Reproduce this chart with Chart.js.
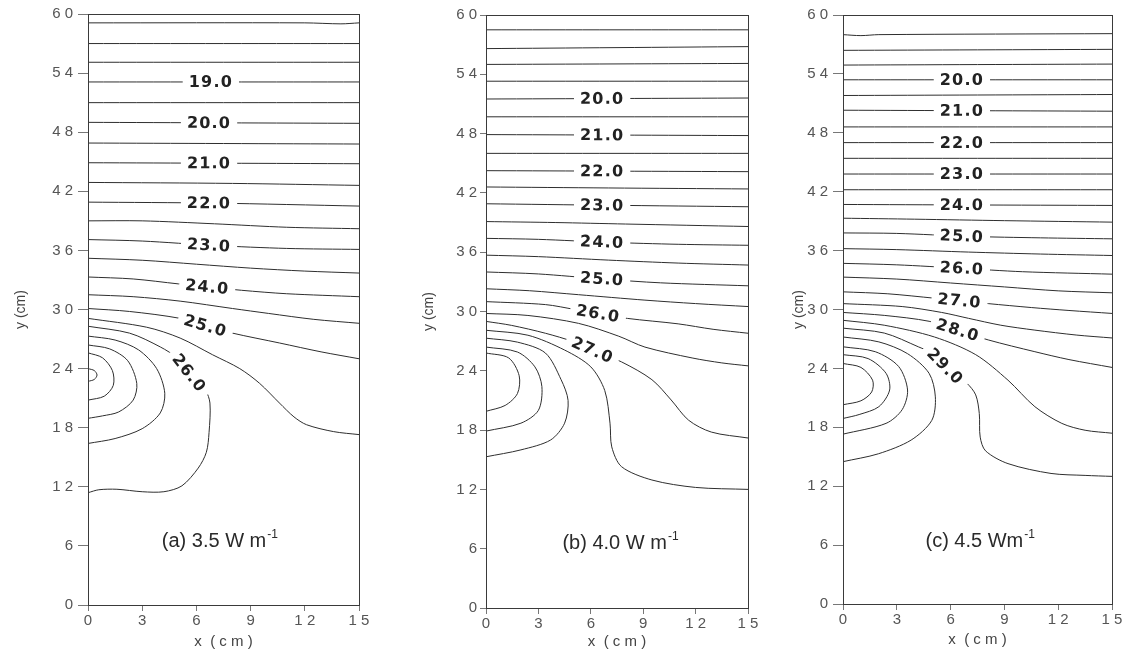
<!DOCTYPE html>
<html><head><meta charset="utf-8">
<script src="https://cdn.jsdelivr.net/npm/chart.js@4.4.1/dist/chart.umd.min.js"></script>
<style>
html,body{margin:0;padding:0;background:#fff;}
#wrap{position:relative;width:1134px;height:660px;overflow:hidden;background:#fff;}
canvas{position:absolute;top:0;}
</style></head><body>
<div id="wrap">
<canvas id="ca" width="380" height="660" style="left:0px"></canvas>
<canvas id="cb" width="380" height="660" style="left:380px"></canvas>
<canvas id="cc" width="374" height="660" style="left:760px"></canvas>
</div>
<script>
// ---- axis ticks (shared) ----
const xTickValues = [0, 3, 6, 9, 12, 15];
const xTickLabels = ['0', '3', '6', '9', '1 2', '1 5'];
const yTickValues = [0, 6, 12, 18, 24, 30, 36, 42, 48, 54, 60];
const yTickLabels = ['0', '6', '1 2', '1 8', '2 4', '3 0', '3 6', '4 2', '4 8', '5 4', '6 0'];

// ---- panel (a) 3.5 W m-1 : contour levels (deg C) and their lines [x cm, y cm] ----
const levelsA = [17.5, 18.0, 18.5, 19.0, 19.5, 20.0, 20.5, 21.0, 21.5, 22.0, 22.5, 23.0, 23.5, 24.0, 24.5, 25.0, 25.5, 26.0, 26.5, 27.0, 27.5, 28.0];
const linesA = [
  [[0,59.1],[12,59.1],[14,59.0],[15,59.1]],
  [[0,57.0],[15,57.0]],
  [[0,55.1],[15,55.1]],
  [[0,53.1],[15,53.1]],
  [[0,51.0],[15,51.0]],
  [[0,49.0],[15,48.9]],
  [[0,46.9],[15,46.8]],
  [[0,44.9],[15,44.8]],
  [[0,42.9],[8,42.8],[15,42.6]],
  [[0,40.9],[7,40.8],[15,40.5]],
  [[0,39.0],[3,39.0],[7,38.7],[11,38.35],[15,38.2]],
  [[0,37.1],[3,36.95],[7,36.5],[11,36.2],[15,36.1]],
  [[0,35.2],[3,35.0],[6,34.6],[9,34.2],[12,33.9],[15,33.7]],
  [[0,33.3],[2.5,33.1],[5,32.6],[6.6,32.3],[8.5,31.95],[11,31.6],[15,31.3]],
  [[0,31.5],[2.5,31.3],[5.1,30.85],[8,30.1],[10,29.6],[12.5,29.0],[15,28.6]],
  [[0,30.1],[2.3,29.8],[5.1,29.1],[6.5,28.35],[8,27.6],[10.6,26.6],[12.9,25.7],[15,25.0]],
  [[0,29.1],[3.25,28.2],[5.1,27.1],[6.9,25.4],[8.4,24.0],[9.5,22.5],[10.6,20.5],[11.4,19.1],[12.1,18.3],[13.6,17.6],[15,17.3]],
  [[0,28.3],[2.3,27.6],[4.0,26.2],[4.95,25.05],[5.7,23.3],[6.5,21.8],[6.75,20.5],[6.7,17.5],[6.55,15.5],[6.1,13.9],[5.2,12.1],[4.2,11.5],[3.0,11.5],[1.6,11.75],[0.6,11.7],[0,11.4]],
  [[0,27.3],[1.5,26.9],[2.8,25.9],[3.8,24.0],[4.25,21.5],[4.0,19.5],[3.0,17.9],[1.5,16.9],[0,16.4]],
  [[0,26.4],[1.2,26.0],[2.2,24.8],[2.7,22.5],[2.5,20.8],[1.7,19.6],[0.8,19.2],[0,18.95]],
  [[0,25.6],[0.8,25.1],[1.35,23.8],[1.4,22.3],[0.9,21.2],[0,20.8]],
  [[0,24.0],[0.35,23.8],[0.5,23.35],[0.35,22.9],[0,22.7]]
];
const labelLevelsA = [19, 20, 21, 22, 23, 24, 25, 26];
const labelXA = [6.8, 6.7, 6.7, 6.7, 6.7, 6.6, 6.5, 5.6];
const noteA = '(a) 3.5 W m';

// ---- panel (b) 4.0 W m-1 ----
const levelsB = [18.0, 18.5, 19.0, 19.5, 20.0, 20.5, 21.0, 21.5, 22.0, 22.5, 23.0, 23.5, 24.0, 24.5, 25.0, 25.5, 26.0, 26.5, 27.0, 27.5, 28.0, 28.5, 29.0];
const linesB = [
  [[0,58.5],[15,58.5]],
  [[0,56.6],[15,56.8]],
  [[0,55.0],[15,55.1]],
  [[0,53.3],[15,53.3]],
  [[0,51.5],[15,51.6]],
  [[0,49.7],[15,49.7]],
  [[0,47.9],[15,47.8]],
  [[0,46.0],[15,46.0]],
  [[0,44.25],[15,44.15]],
  [[0,42.6],[7,42.5],[15,42.4]],
  [[0,40.9],[7,40.75],[15,40.6]],
  [[0,39.1],[4,39.0],[8,38.85],[15,38.6]],
  [[0,37.4],[3,37.3],[7,37.0],[11,36.8],[15,36.7]],
  [[0,35.7],[3,35.55],[7,35.2],[11,34.9],[15,34.7]],
  [[0,34.0],[3,33.8],[6.6,33.3],[10,32.9],[15,32.6]],
  [[0,32.3],[2.5,32.1],[5.3,31.7],[9.1,31.15],[12,30.8],[15,30.5]],
  [[0,31.0],[3.4,30.7],[5.1,30.2],[6.4,29.8],[8.1,29.3],[11,28.75],[13,28.2],[15,27.8]],
  [[0,29.8],[2.4,29.6],[5.3,28.8],[7.6,27.5],[9.1,26.4],[11.8,25.3],[13.5,24.8],[15,24.5]],
  [[0,29.0],[1.45,28.6],[3.4,27.8],[5.0,26.95],[6.1,26.1],[7.76,24.9],[9.5,23.1],[10.6,21.05],[11.6,19.0],[12.9,17.8],[15,17.2]],
  [[0,28.1],[2.4,27.6],[4.5,26.1],[6.0,24.4],[6.8,22.0],[7.1,18.7],[7.2,16.3],[7.76,14.3],[9.5,12.95],[12.0,12.2],[15,12.0]],
  [[0,27.3],[1.8,26.9],[3.4,25.8],[4.3,23.1],[4.7,21.0],[4.5,18.7],[3.7,17.0],[2.0,16.0],[0,15.3]],
  [[0,26.4],[1.8,25.9],[2.8,24.4],[3.2,22.4],[3.0,20.0],[2.0,18.7],[0,17.9]],
  [[0,25.8],[1.3,25.3],[1.9,23.5],[1.8,21.7],[1.1,20.5],[0,19.9]]
];
const labelLevelsB = [20, 21, 22, 23, 24, 25, 26, 27];
const labelXB = [6.65, 6.65, 6.65, 6.65, 6.65, 6.65, 6.42, 6.1];
const noteB = '(b) 4.0 W m';

// ---- panel (c) 4.5 W m-1 ----
const levelsC = [18.5, 19.0, 19.5, 20.0, 20.5, 21.0, 21.5, 22.0, 22.5, 23.0, 23.5, 24.0, 24.5, 25.0, 25.5, 26.0, 26.5, 27.0, 27.5, 28.0, 28.5, 29.0, 29.5, 30.0, 30.5, 31.0];
const linesC = [
  [[0,58.0],[1,57.9],[2,58.0],[15,58.1]],
  [[0,56.4],[15,56.5]],
  [[0,54.9],[15,55.0]],
  [[0,53.4],[15,53.4]],
  [[0,51.8],[15,51.9]],
  [[0,50.3],[15,50.2]],
  [[0,48.6],[15,48.6]],
  [[0,47.0],[15,47.0]],
  [[0,45.4],[15,45.4]],
  [[0,43.8],[15,43.8]],
  [[0,42.2],[15,42.2]],
  [[0,40.7],[7,40.65],[15,40.6]],
  [[0,39.3],[4,39.2],[9,39.05],[15,38.9]],
  [[0,37.8],[3,37.75],[7,37.45],[11,37.3],[15,37.2]],
  [[0,36.2],[3,36.1],[7,35.85],[11,35.65],[15,35.5]],
  [[0,34.7],[3,34.55],[6.6,34.2],[10,33.85],[15,33.6]],
  [[0,33.3],[3,33.1],[6,32.7],[9,32.3],[12,31.9],[15,31.7]],
  [[0,31.8],[2.5,31.6],[5.1,31.15],[6.5,30.9],[8.1,30.6],[10.5,30.2],[12.6,29.9],[15,29.6]],
  [[0,30.6],[3.3,30.3],[5.5,29.7],[7,29.1],[8.8,28.4],[10.7,27.9],[13,27.4],[15,27.1]],
  [[0,29.7],[2.3,29.4],[4.8,28.8],[6.4,27.9],[8.1,26.9],[10.7,25.7],[12.6,24.9],[15,24.1]],
  [[0,28.9],[2.3,28.4],[5.1,27.2],[7.4,25.4],[9.2,22.8],[10.7,20.1],[12.2,18.4],[13.5,17.7],[15,17.4]],
  [[0,28.1],[2.3,27.6],[4.2,26.2],[5.0,25.5],[5.75,24.1],[6.9,22.5],[7.4,21.3],[7.6,19.4],[7.65,17.0],[7.95,15.6],[9.2,14.3],[11.6,13.3],[13.5,13.1],[15,13.0]],
  [[0,27.2],[2.0,26.7],[3.6,25.5],[4.8,23.5],[5.15,21.1],[4.95,18.7],[3.8,16.7],[1.97,15.3],[0,14.5]],
  [[0,26.2],[1.8,25.7],[3.1,24.2],[3.6,21.8],[3.3,19.8],[2.4,18.4],[0,17.3]],
  [[0,25.4],[1.4,25.0],[2.4,23.5],[2.6,21.8],[2.0,20.1],[0.9,19.3],[0,18.9]],
  [[0,24.5],[1.0,24.1],[1.65,22.8],[1.6,21.6],[1.0,20.7],[0,20.3]]
];
const labelLevelsC = [20, 21, 22, 23, 24, 25, 26, 27, 28, 29];
const labelXC = [6.63, 6.63, 6.63, 6.63, 6.63, 6.63, 6.63, 6.5, 6.4, 5.7];
const noteC = '(c) 4.5 Wm';
const noteSup = '-1';

// ---------------------------------------------------------------
const FONT = '"Liberation Sans", Arial, sans-serif';
const LINE_COLOR = '#2e2e2e';

const framePlugin = {
  id: 'frame',
  afterDatasetsDraw(chart) {
    const {ctx, chartArea: a} = chart;
    ctx.save();
    ctx.strokeStyle = '#3a3a3a';
    ctx.lineWidth = 1;
    ctx.strokeRect(Math.round(a.left) + 0.5, Math.round(a.top) + 0.5, Math.round(a.right - a.left), Math.round(a.bottom - a.top));
    ctx.restore();
  }
};

const contourLabelPlugin = {
  id: 'contourLabels',
  afterDatasetsDraw(chart, args, opts) {
    const {ctx} = chart;
    const xs = chart.scales.x, ys = chart.scales.y;
    ctx.save();
    opts.levels.forEach((lev, k) => {
      const idx = opts.allLevels.findIndex(v => Math.abs(v - lev) < 1e-6);
      if (idx < 0) return;
      const pts = opts.lines[idx];
      const lx = opts.xs[k];
      let ly = null, ang = 0;
      for (let i = 0; i < pts.length - 1; i++) {
        const p = pts[i], q = pts[i + 1];
        const lo = Math.min(p[0], q[0]), hi = Math.max(p[0], q[0]);
        if (lx >= lo && lx <= hi && hi > lo) {
          const t = (lx - p[0]) / (q[0] - p[0]);
          ly = p[1] + t * (q[1] - p[1]);
          let dx = xs.getPixelForValue(q[0]) - xs.getPixelForValue(p[0]);
          let dy = ys.getPixelForValue(q[1]) - ys.getPixelForValue(p[1]);
          if (dx < 0) { dx = -dx; dy = -dy; }
          ang = Math.atan2(dy, dx);
          break;
        }
      }
      if (ly === null) return;
      const px = xs.getPixelForValue(lx), py = ys.getPixelForValue(ly);
      const txt = lev.toFixed(1);
      ctx.save();
      ctx.translate(px, py);
      ctx.rotate(ang);
      ctx.font = 'bold 16px "DejaVu Sans", sans-serif';
      try { ctx.letterSpacing = '1.2px'; } catch (e) {}
      const w = ctx.measureText(txt).width;
      ctx.fillStyle = '#fff';
      ctx.fillRect(-w / 2 - 6, -7, w + 12, 14);
      ctx.fillStyle = '#222';
      ctx.textAlign = 'left';
      ctx.textBaseline = 'middle';
      ctx.fillText(txt, -w / 2, 1);
      ctx.restore();
    });
    ctx.restore();
  }
};

const notePlugin = {
  id: 'note',
  afterDatasetsDraw(chart, args, opts) {
    const {ctx} = chart;
    const px = chart.scales.x.getPixelForValue(opts.x);
    const py = chart.scales.y.getPixelForValue(opts.y);
    ctx.save();
    ctx.fillStyle = '#2a2a2a';
    ctx.textBaseline = 'alphabetic';
    ctx.textAlign = 'left';
    ctx.font = '20px ' + FONT;
    const w1 = ctx.measureText(opts.text).width;
    ctx.font = '12px ' + FONT;
    const w2 = ctx.measureText(noteSup).width;
    const x0 = px - (w1 + w2 + 1) / 2;
    ctx.font = '20px ' + FONT;
    ctx.fillText(opts.text, x0, py + 7);
    ctx.font = '12px ' + FONT;
    ctx.fillText(noteSup, x0 + w1 + 1, py - 2);
    ctx.restore();
  }
};

function makePanel(id, levels, lines, labelLevels, labelX, note, cfg) {
  const datasets = lines.map((pts, i) => ({
    label: levels[i].toFixed(1),
    data: pts.map(p => ({x: p[0], y: p[1]})),
    showLine: true,
    borderColor: LINE_COLOR,
    borderWidth: 1,
    pointRadius: 0,
    pointHoverRadius: 0,
    tension: 0.3,
    fill: false
  }));
  return new Chart(document.getElementById(id), {
    type: 'scatter',
    data: {datasets},
    options: {
      responsive: false,
      animation: false,
      devicePixelRatio: 1,
      events: [],
      layout: {padding: {left: 0, right: cfg.padRight, top: cfg.padTop, bottom: 0}},
      plugins: {
        legend: {display: false},
        tooltip: {enabled: false},
        contourLabels: {levels: labelLevels, xs: labelX, lines: lines, allLevels: levels},
        note: {text: note, x: cfg.noteX, y: cfg.noteY}
      },
      scales: {
        x: {
          type: 'linear', min: 0, max: 15, position: 'bottom',
          afterBuildTicks: s => { s.ticks = xTickValues.map(v => ({value: v})); },
          ticks: {callback: (v, i) => xTickLabels[i], font: {family: FONT, size: 15}, color: '#555', padding: 1, maxRotation: 0, autoSkip: false},
          grid: {drawOnChartArea: false, drawTicks: true, tickLength: 6, color: '#777'},
          border: {display: true, color: '#3a3a3a', width: 1},
          title: {display: true, text: 'x  ( c m )', font: {family: FONT, size: 15}, color: '#444', padding: {top: 0, bottom: cfg.xTitlePad}},
          afterFit(s) { s.height = cfg.xAxisH; }
        },
        y: {
          type: 'linear', min: 0, max: 60, position: 'left',
          afterBuildTicks: s => { s.ticks = yTickValues.map(v => ({value: v})); },
          ticks: {callback: (v, i) => yTickLabels[i], font: {family: FONT, size: 15}, color: '#555', padding: cfg.yPad, autoSkip: false},
          grid: {drawOnChartArea: false, drawTicks: true, tickLength: cfg.yTick, color: '#777'},
          border: {display: true, color: '#3a3a3a', width: 1},
          title: {display: true, text: 'y (cm)', font: {family: FONT, size: 14}, color: '#444', padding: {top: cfg.yTitlePad, bottom: 0}},
          afterFit(s) { s.width = cfg.yAxisW; }
        }
      }
    },
    plugins: [framePlugin, contourLabelPlugin, notePlugin]
  });
}

makePanel('ca', levelsA, linesA, labelLevelsA, labelXA, noteA,
  {yAxisW: 88, padRight: 21, padTop: 14, xAxisH: 55, yTick: 10, yPad: 5, yTitlePad: 13, xTitlePad: 9, noteX: 7.3, noteY: 6.6});
makePanel('cb', levelsB, linesB, labelLevelsB, labelXB, noteB,
  {yAxisW: 106, padRight: 12, padTop: 15, xAxisH: 52, yTick: 6, yPad: 3, yTitlePad: 41, xTitlePad: 9, noteX: 7.7, noteY: 6.7});
makePanel('cc', levelsC, linesC, labelLevelsC, labelXC, noteC,
  {yAxisW: 83, padRight: 22, padTop: 15, xAxisH: 56, yTick: 10, yPad: 5, yTitlePad: 31, xTitlePad: 11, noteX: 7.65, noteY: 6.5});
</script>
</body></html>
